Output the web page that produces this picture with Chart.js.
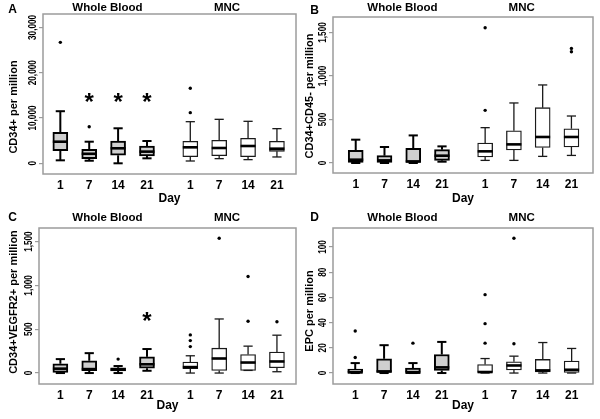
<!doctype html>
<html lang="en">
<head>
<meta charset="utf-8">
<title>CD34+ / EPC per million, box plots</title>
<script src="https://cdn.jsdelivr.net/npm/chart.js@4.4.1/dist/chart.umd.min.js"></script>
<style>
  html,body{margin:0;padding:0;background:#fff}
  .wrap{position:relative;width:600px;height:419px;overflow:hidden;background:#fff}
  canvas{position:absolute}
</style>
</head>
<body>
<div class="wrap">
  <canvas id="pA" width="300" height="205" style="left:0;top:0"></canvas>
  <canvas id="pB" width="300" height="205" style="left:300px;top:0"></canvas>
  <canvas id="pC" width="300" height="214" style="left:0;top:205px"></canvas>
  <canvas id="pD" width="300" height="214" style="left:300px;top:205px"></canvas>
</div>
<script>
const groups = ['Whole Blood', 'MNC'];
const days = ['1', '7', '14', '21'];

// A: CD34+ per million
const lowA  = [660, 570, 0, 1100, 510, 1030, 810, 1400];
const q1A   = [2780, 1020, 1770, 1610, 1470, 1690, 1470, 2650];
const medA  = [4770, 2100, 3310, 2580, 3530, 3380, 3820, 3230];
const q3A   = [6840, 3090, 4920, 3820, 4860, 5080, 5520, 4860];
const highA = [11500, 4770, 7730, 4920, 9190, 9710, 9270, 7650];
const outA  = [[26700], [8080], [], [], [16560, 11180], [], [], []];
const starA = [null, 14400, 14400, 14400, null, null, null, null];
const ticksA = [0, 10000, 20000, 30000];

// B: CD34+CD45- per million
const lowB  = [0, 0, 0, 15, 30, 30, 76, 87];
const q1B   = [7, 7, 7, 30, 69, 149, 179, 184];
const medB  = [38, 30, 18, 84, 134, 214, 299, 299];
const q3B   = [145, 84, 168, 153, 230, 371, 636, 394];
const highB = [268, 184, 317, 191, 406, 690, 897, 540];
const outB  = [[], [], [], [], [1555, 605], [], [], [1317, 1279]];
const starB = [null, null, null, null, null, null, null, null];
const ticksB = [0, 500, 1000, 1500];

// C: CD34+VEGFR2+ per million
const lowC  = [0, 0, 0, 26, 0, 0, 30, 15];
const q1C   = [8, 26, 25, 55, 49, 30, 30, 60];
const medC  = [50, 45, 40, 100, 68, 166, 120, 132];
const q3C   = [106, 140, 60, 185, 125, 284, 211, 239];
const highC = [159, 227, 80, 274, 197, 617, 307, 432];
const outC  = [[], [], [159], [], [435, 370, 302], [1538], [1102, 591], [586]];
const starC = [null, null, null, 643, null, null, null, null];
const ticksC = [0, 500, 1000, 1500];

// D: EPC per million
const lowD  = [0, 0, 0, 0, 0, 0, 0, 0];
const q1D   = [0, 0, 0, 2, 0, 2.4, 0.8, 0];
const medD  = [0.5, 1.3, 0.3, 4.5, 0.8, 6.0, 2.1, 2.6];
const q3D   = [3.2, 11.3, 3.9, 14.7, 6.8, 8.9, 10.8, 9.5];
const highD = [7.9, 22.1, 7.9, 24.7, 11.5, 13.4, 24.2, 19.5];
const outD  = [[33.4, 12.3], [], [23.7], [], [62.2, 39.2, 23.7], [107, 23.2], [], []];
const starD = [null, null, null, null, null, null, null, null];
const ticksD = [0, 20, 40, 60, 80, 100];

const FONT = '"Liberation Sans", Arial, sans-serif';

// x slot for each box: groups side by side with half a slot gap
const slots = [];
const dayLabels = [];
groups.forEach((g, gi) => days.forEach((d, di) => {
  slots.push(gi * (days.length + 0.5) + di + 1);
  dayLabels.push(d);
}));

const panels = [
  { id: 'pA', letter: 'A', yTitle: 'CD34+ per million', low: lowA, q1: q1A, med: medA, q3: q3A, high: highA, out: outA, star: starA, yTicks: ticksA,
    yMin: -2360, yMax: 32960, xMin: 0.4, xMax: 9.16,
    lay: { yw: 43, top: 14, right: 4, xh: 31, dayPad: -1, grpY: 8, grpX: [107.5, 227], ytX: 14.3, ytY: 107, letX: 12.5, letY: 10 } },
  { id: 'pB', letter: 'B', yTitle: 'CD34+CD45- per million', low: lowB, q1: q1B, med: medB, q3: q3B, high: highB, out: outB, star: starB, yTicks: ticksB,
    yMin: -115, yMax: 1678, xMin: 0.21, xMax: 9.25,
    lay: { yw: 33, top: 17, right: 7, xh: 32, dayPad: -1, grpY: 7.5, grpX: [102.5, 221.7], ytX: 10, ytY: 96, letX: 14.5, letY: 11 } },
  { id: 'pC', letter: 'C', yTitle: 'CD34+VEGFR2+ per million', low: lowC, q1: q1C, med: medC, q3: q3C, high: highC, out: outC, star: starC, yTicks: ticksC,
    yMin: -125, yMax: 1655, xMin: 0.26, xMax: 9.16,
    lay: { yw: 39, top: 23, right: 4, xh: 35, dayPad: 6, grpY: 12.7, grpX: [107.5, 227], ytX: 13.8, ytY: 97, letX: 12.5, letY: 13 } },
  { id: 'pD', letter: 'D', yTitle: 'EPC per million', low: lowD, q1: q1D, med: medD, q3: q3D, high: highD, out: outD, star: starD, yTicks: ticksD,
    yMin: -8.7, yMax: 115.1, xMin: 0.23, xMax: 9.24,
    lay: { yw: 33, top: 23, right: 7, xh: 35, dayPad: 6, grpY: 12.7, grpX: [102.5, 221.7], ytX: 10, ytY: 106, letX: 14.5, letY: 13 } }
];

function line(ctx, x1, y1, x2, y2) {
  ctx.beginPath(); ctx.moveTo(x1, y1); ctx.lineTo(x2, y2); ctx.stroke();
}

function decor(p) {
  return {
    id: 'decor' + p.letter,
    afterDatasetsDraw(chart) {
      const { ctx } = chart;
      const xs = chart.scales.x, ys = chart.scales.y;
      const bars = chart.getDatasetMeta(0).data;
      ctx.save();
      // whiskers, caps and medians
      slots.forEach((s, i) => {
        const x = xs.getPixelForValue(s);
        const half = bars[i].width / 2;
        const cap = 4.6;
        const wb = i < days.length;
        ctx.strokeStyle = wb ? '#000' : '#1a1a1a';
        ctx.lineWidth = wb ? 2 : 1.3;
        const yH = ys.getPixelForValue(p.high[i]), y3 = ys.getPixelForValue(p.q3[i]);
        const y1 = ys.getPixelForValue(p.q1[i]), yL = ys.getPixelForValue(p.low[i]);
        line(ctx, x, y3, x, yH); line(ctx, x - cap, yH, x + cap, yH);
        line(ctx, x, y1, x, yL); line(ctx, x - cap, yL, x + cap, yL);
        ctx.strokeStyle = '#000';
        ctx.lineWidth = 2.6;
        const yM = ys.getPixelForValue(p.med[i]);
        line(ctx, x - half, yM, x + half, yM);
        if (p.star[i] != null) {
          ctx.fillStyle = '#000';
          ctx.font = 'bold 24px ' + FONT;
          ctx.textAlign = 'center';
          ctx.textBaseline = 'alphabetic';
          ctx.fillText('*', x, ys.getPixelForValue(p.star[i]) + 12);
        }
      });
      ctx.restore();
    },
    afterDraw(chart) {
      const { ctx, chartArea: a } = chart;
      const ys = chart.scales.y;
      const L = p.lay;
      ctx.save();
      // plot frame
      ctx.strokeStyle = '#9c9c9c';
      ctx.lineWidth = 1.5;
      ctx.strokeRect(a.left, a.top, a.right - a.left, a.bottom - a.top);
      ctx.fillStyle = '#000';
      // rotated y tick labels
      ctx.font = 'bold 10px ' + FONT;
      ctx.textAlign = 'center';
      ctx.textBaseline = 'middle';
      p.yTicks.forEach(v => {
        ctx.save();
        ctx.translate(a.left - 9.6, ys.getPixelForValue(v));
        ctx.rotate(-Math.PI / 2);
        ctx.scale(0.82, 1);
        ctx.fillText(v.toLocaleString('en-US'), 0, 0);
        ctx.restore();
      });
      // y axis title
      ctx.save();
      ctx.font = 'bold 11px ' + FONT;
      ctx.translate(L.ytX, L.ytY);
      ctx.rotate(-Math.PI / 2);
      ctx.fillText(p.yTitle, 0, 0);
      ctx.restore();
      // group titles and panel letter
      ctx.font = 'bold 11.5px ' + FONT;
      groups.forEach((g, gi) => ctx.fillText(g, L.grpX[gi], L.grpY));
      ctx.font = 'bold 12px ' + FONT;
      ctx.fillText(p.letter, L.letX, L.letY);
      ctx.restore();
    }
  };
}

panels.forEach(p => {
  const L = p.lay;
  const boxes = slots.map((s, i) => ({ x: s, y: [p.q1[i], p.q3[i]] }));
  const points = [];
  p.out.forEach((list, i) => list.forEach(v => points.push({ x: slots[i], y: v })));

  new Chart(document.getElementById(p.id), {
    type: 'bar',
    data: {
      datasets: [
        {
          type: 'bar',
          data: boxes,
          barThickness: 15,
          grouped: false,
          borderSkipped: false,
          backgroundColor: c => c.dataIndex < days.length ? '#cfcfcf' : '#ffffff',
          borderColor: c => c.dataIndex < days.length ? '#000' : '#1a1a1a',
          borderWidth: c => c.dataIndex < days.length ? 2 : 1.3
        },
        {
          type: 'scatter',
          data: points,
          pointRadius: 1.7,
          pointBackgroundColor: '#000',
          pointBorderWidth: 0,
          clip: false
        }
      ]
    },
    options: {
      responsive: false,
      devicePixelRatio: 1,
      animation: false,
      events: [],
      layout: { padding: { top: L.top, right: L.right, left: 0, bottom: 0 } },
      plugins: { legend: { display: false }, tooltip: { enabled: false } },
      scales: {
        x: {
          type: 'linear',
          min: p.xMin, max: p.xMax,
          offset: false,
          grid: { display: false },
          border: { display: false },
          afterBuildTicks: sc => { sc.ticks = slots.map(v => ({ value: v })); },
          afterFit: sc => { sc.height = L.xh; },
          ticks: {
            autoSkip: false, maxRotation: 0, padding: -4,
            color: '#000', font: { family: FONT, size: 12, weight: 'bold' },
            callback: (v, i) => dayLabels[i]
          },
          title: {
            display: true, text: 'Day', color: '#000',
            font: { family: FONT, size: 12, weight: 'bold', lineHeight: 1.2 },
            padding: { top: 0, bottom: L.dayPad }
          }
        },
        y: {
          type: 'linear',
          min: p.yMin, max: p.yMax,
          grid: { display: true, drawOnChartArea: false, drawTicks: true, tickLength: 4, color: '#9c9c9c', lineWidth: 1.2 },
          border: { display: false },
          afterBuildTicks: sc => { sc.ticks = p.yTicks.map(v => ({ value: v })); },
          afterFit: sc => { sc.width = L.yw; },
          ticks: { display: false }
        }
      }
    },
    plugins: [decor(p)]
  });
});
</script>
</body>
</html>
